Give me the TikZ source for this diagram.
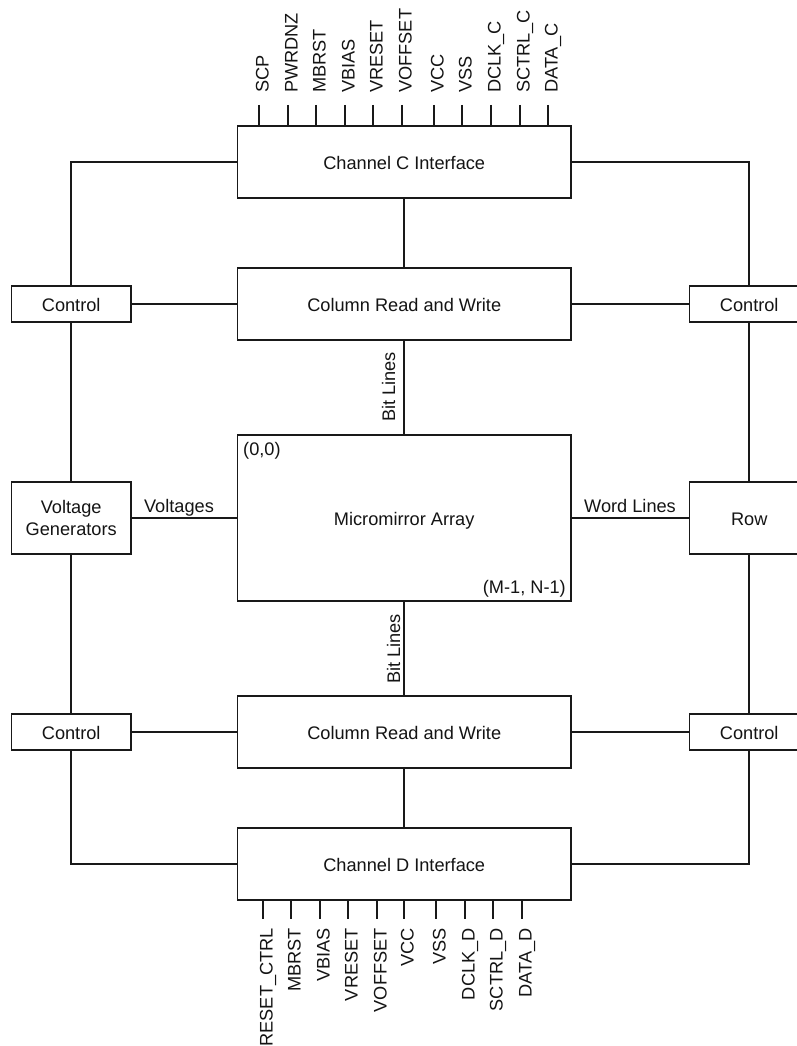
\documentclass[tikz,border=0pt]{standalone}
\usepackage{fontspec}
\setmainfont{Liberation Sans}
\begin{document}
\begin{tikzpicture}[x=1pt,y=-1pt,
  every node/.style={font=\fontsize{18.2}{21.5}\selectfont,text=black!92},
  box/.style={draw=black!90,line width=1.8pt,fill=white,inner sep=0pt,minimum width=#1,align=center},
  onel/.style={text height=15pt,text depth=0pt},
  wide/.style={box=333.6pt,onel},
  small/.style={box=119.3pt,minimum height=36pt,onel},
  tall/.style={box=119.3pt,minimum height=72pt},
  wire/.style={draw=black!90,line width=1.8pt},
  txt/.style={inner sep=0pt},
  pin/.style={txt,rotate=90},
]
\useasboundingbox (0,0) rectangle (796,1046);
% boxes
\node[wide,minimum height=72pt] (chc) at (404.2,162) {Channel C Interface};
\node[wide,minimum height=72pt] (colc) at (404.2,304) {Column Read and Write};
\node[wide,minimum height=166pt] (arr) at (404.2,518) {Micromirror Array};
\node[wide,minimum height=72pt] (cold) at (404.2,732) {Column Read and Write};
\node[wide,minimum height=72pt] (chd) at (404.2,864) {Channel D Interface};
\node[small] (ctl1) at (71.2,304) {Control};
\node[tall] (vg) at (71.2,518) {Voltage\\Generators};
\node[small] (ctl2) at (71.2,732) {Control};
\node[small] (ctr1) at (749.2,304) {Control};
\node[tall,onel] (row) at (749.2,518) {Row};
\node[small] (ctr2) at (749.2,732) {Control};
% connectors
\draw[wire] (chc) -- (colc);
\draw[wire] (cold) -- (chd);
\draw[wire] (colc) -- (arr);
\draw[wire] (arr) -- (cold);
\draw[wire] (vg) -- (arr);
\draw[wire] (arr) -- (row);
\draw[wire] (ctl1) -- (colc);
\draw[wire] (ctl2) -- (cold);
\draw[wire] (colc) -- (ctr1);
\draw[wire] (cold) -- (ctr2);
\draw[wire] (chc.west) -| (ctl1.north);
\draw[wire] (chc.east) -| (ctr1.north);
\draw[wire] (chd.west) -| (ctl2.south);
\draw[wire] (chd.east) -| (ctr2.south);
\draw[wire] (ctl1) -- (vg);
\draw[wire] (vg) -- (ctl2);
\draw[wire] (ctr1) -- (row);
\draw[wire] (row) -- (ctr2);
% labels
\node[txt,anchor=base] (lv) at (179,512) {Voltages};
\node[txt,anchor=base] (lw) at (630,512) {Word Lines};
\node[txt,rotate=90,anchor=base] (bl1) at (395,387) {Bit Lines};
\node[txt,rotate=90,anchor=base] (bl2) at (400,649) {Bit Lines};
\node[txt,anchor=base west] (o) at (243,455) {(0,0)};
\node[txt,anchor=base east] (mn) at (566,593) {(M-1, N-1)};
% top pins
\foreach \i/\x/\t in {1/259/SCP,2/288/PWRDNZ,3/316/MBRST,4/345/VBIAS,5/373/VRESET,6/402/VOFFSET,7/434/VCC,8/462/VSS,9/491/DCLK\_C,10/520/SCTRL\_C,11/548/DATA\_C}{
  \coordinate (pt\i) at (\x,105);
  \draw[wire] (pt\i) -- (pt\i |- chc.north);
  \node[pin,anchor=base west] (lt\i) at (\x+9.5,93) {\t};
}
% bottom pins
\foreach \i/\x/\t in {1/263/RESET\_CTRL,2/291/MBRST,3/320/VBIAS,4/348/VRESET,5/377/VOFFSET,6/404/VCC,7/436/VSS,8/465/DCLK\_D,9/493/SCTRL\_D,10/522/DATA\_D}{
  \coordinate (pb\i) at (\x,919);
  \draw[wire] (pb\i |- chd.south) -- (pb\i);
  \node[pin,anchor=base east] (lb\i) at (\x+9.5,928) {\t};
}
\end{tikzpicture}
\end{document}
